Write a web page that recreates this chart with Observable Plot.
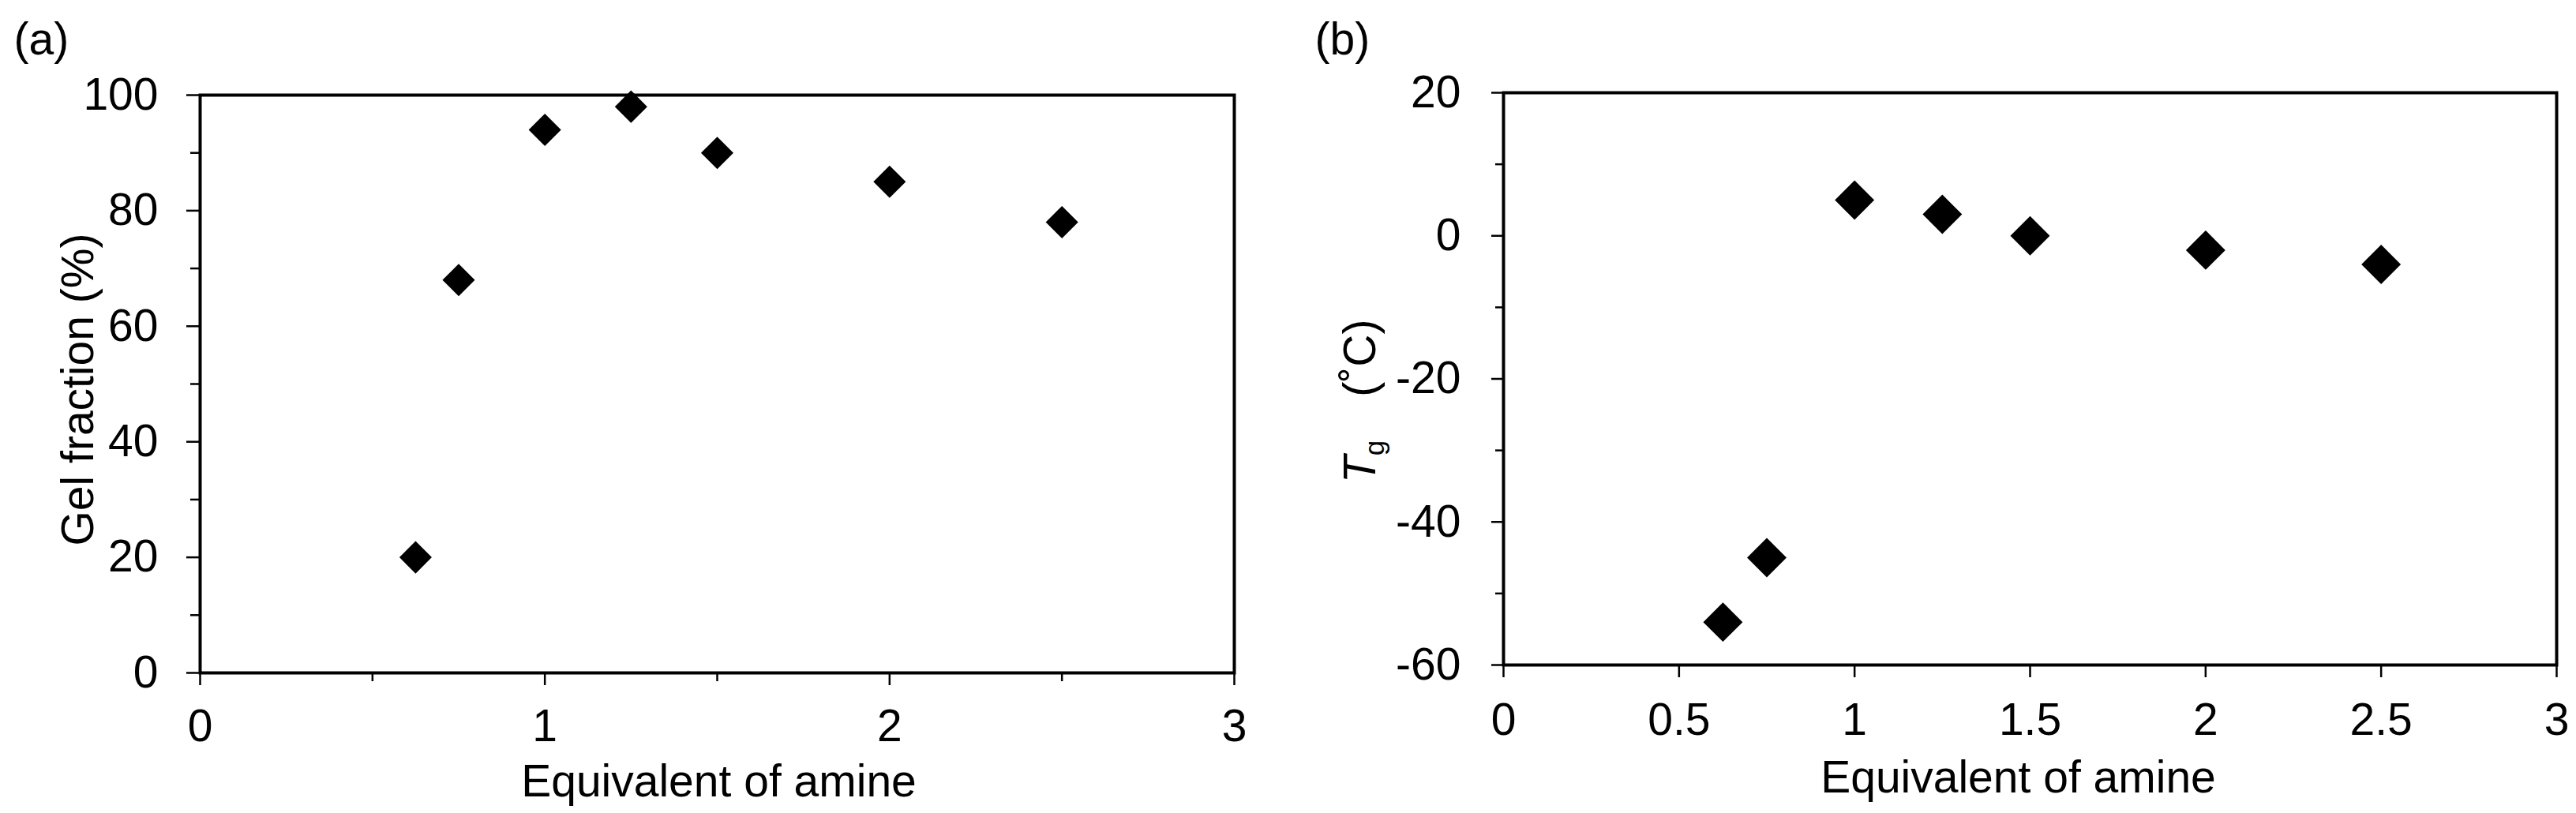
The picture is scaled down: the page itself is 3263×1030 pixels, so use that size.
<!DOCTYPE html>
<html><head><meta charset="utf-8">
<script src="https://cdn.jsdelivr.net/npm/d3@7"></script>
<script src="https://cdn.jsdelivr.net/npm/@observablehq/plot@0.6"></script>
<style>
html,body{margin:0;padding:0;background:#fff;}
#wrap{position:relative;width:3263px;height:1030px;overflow:hidden;background:#fff;}
#wrap > div{position:absolute;top:0;}
</style></head><body>
<div id="wrap"><div id="pa" style="left:0"></div><div id="pb" style="left:1640px"></div></div>
<script>
// ---- data ----
const equivA = [0.625, 0.75, 1.0, 1.25, 1.5, 2.0, 2.5];
const gelFraction = [20, 68, 94, 98, 90, 85, 78];
const equivB = [0.625, 0.75, 1.0, 1.25, 1.5, 2.0, 2.5];
const tgValues = [-54, -45, 5, 3, 0, -2, -4];
const xTicksA = [0, 1, 2, 3];
const xMinorA = [0.5, 1.5, 2.5];
const yTicksA = [0, 20, 40, 60, 80, 100];
const yMinorA = [10, 30, 50, 70, 90];
const xTicksB = [0, 0.5, 1, 1.5, 2, 2.5, 3];
const yTicksB = [-60, -40, -20, 0, 20];
const yMinorB = [-50, -30, -10, 10];
const xLabel = "Equivalent of amine";
const yLabelA = "Gel fraction (%)";

const FONT = '"Liberation Sans", Arial, Helvetica, sans-serif';
const FS = 57;
const dataA = equivA.map((x, i) => ({x, y: gelFraction[i]}));
const dataB = equivB.map((x, i) => ({x, y: tgValues[i]}));
const fmt = d => String(d);
const blank = () => "";

const chartA = Plot.plot({
  width: 1640, height: 1030,
  marginLeft: 253, marginRight: 77, marginTop: 120, marginBottom: 178,
  style: {fontFamily: FONT, fontSize: FS + "px", color: "black", background: "white"},
  x: {domain: [0, 3]},
  y: {domain: [0, 100]},
  marks: [
    Plot.axisY(yTicksA, {tickSize: 17, tickPadding: 36, tickFormat: fmt, strokeWidth: 2.5, label: null, fontSize: FS}),
    Plot.axisY(yMinorA, {tickSize: 12, tickFormat: blank, strokeWidth: 2.5, label: null}),
    Plot.axisX(xTicksA, {tickSize: 16, tickPadding: 30, tickFormat: fmt, strokeWidth: 2.5, label: null, fontSize: FS}),
    Plot.axisX(xMinorA, {tickSize: 11, tickFormat: blank, strokeWidth: 2.5, label: null}),
    Plot.frame({stroke: "black", strokeWidth: 4}),
    Plot.dot(dataA, {x: "x", y: "y", symbol: "diamond2", r: 18.5, fill: "black", stroke: "none"}),
    Plot.text([xLabel], {text: d => d, frameAnchor: "bottom", lineAnchor: "top", dy: 116, dx: 2, fontSize: FS, fill: "black"}),
    Plot.text([yLabelA], {text: d => d, frameAnchor: "left", textAnchor: "middle", rotate: -90, lineAnchor: "bottom", dx: -136, dy: 7, fontSize: FS, fill: "black"}),
    Plot.text(["(a)"], {text: d => d, frameAnchor: "top-left", textAnchor: "start", lineAnchor: "bottom", dx: -236, dy: -52, fontSize: FS, fill: "black"})
  ]
});
document.getElementById("pa").appendChild(chartA);

const chartB = Plot.plot({
  width: 1623, height: 1030,
  marginLeft: 264, marginRight: 25, marginTop: 117, marginBottom: 188,
  style: {fontFamily: FONT, fontSize: FS + "px", color: "black", background: "white"},
  x: {domain: [0, 3]},
  y: {domain: [-60, 20]},
  marks: [
    Plot.axisY(yTicksB, {tickSize: 15, tickPadding: 39, tickFormat: fmt, strokeWidth: 2.5, label: null, fontSize: FS}),
    Plot.axisY(yMinorB, {tickSize: 10, tickFormat: blank, strokeWidth: 2.5, label: null}),
    Plot.axisX(xTicksB, {tickSize: 16, tickPadding: 32, tickFormat: fmt, strokeWidth: 2.5, label: null, fontSize: FS}),
    Plot.frame({stroke: "black", strokeWidth: 4}),
    Plot.dot(dataB, {x: "x", y: "y", symbol: "diamond2", r: 22.5, fill: "black", stroke: "none"}),
    Plot.text([xLabel], {text: d => d, frameAnchor: "bottom", lineAnchor: "top", dy: 121, dx: -15, fontSize: FS, fill: "black"}),
    Plot.text(["(b)"], {text: d => d, frameAnchor: "top-left", textAnchor: "start", lineAnchor: "bottom", dx: -239, dy: -49, fontSize: FS, fill: "black"})
  ]
});
document.getElementById("pb").appendChild(chartB);

// T_g (˚C) axis label with italic T and subscript g
const svgB = chartB.tagName.toLowerCase() === "svg" ? chartB : chartB.querySelector("svg");
const lab = d3.select(svgB).append("text")
  .attr("transform", "translate(102,612) rotate(-90)")
  .attr("font-family", FONT).attr("font-size", FS).attr("fill", "black")
  .attr("text-anchor", "start");
lab.append("tspan").attr("font-style", "italic").text("T");
lab.append("tspan").attr("font-size", 35).attr("dy", 11).text("g");
lab.append("tspan").attr("dy", -11).attr("dx", 55).text("(˚C)");
</script>
</body></html>
